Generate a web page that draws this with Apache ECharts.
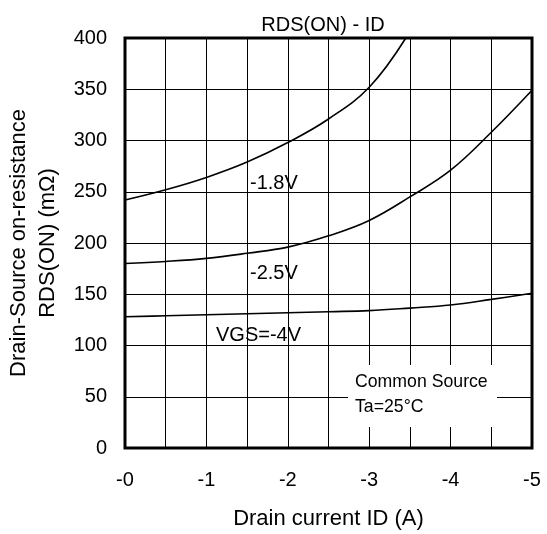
<!DOCTYPE html>
<html>
<head>
<meta charset="utf-8">
<script src="https://cdn.jsdelivr.net/npm/echarts@6/dist/echarts.min.js"></script>
<style>
html,body{margin:0;padding:0;background:#fff;}
#chart{width:547px;height:534px;}
</style>
</head>
<body>
<div id="chart"></div>
<script>
// drain current (A)
var idA = [0, -0.5, -1, -1.5, -2, -2.5, -3, -3.5, -4, -4.5, -5];
var id18 = [0, -0.5, -1, -1.5, -2, -2.5, -3, -3.45];
// RDS(ON) in mOhm
var rds18 = [242, 252, 264, 279, 298, 321, 352, 400];
var rds25 = [180, 182, 185, 190, 196, 207, 222, 245, 271, 308, 349];
var rds40 = [128, 129, 130, 131, 132, 133, 134, 136.5, 139.5, 145, 151];
var curveNames = ['-1.8V', '-2.5V', 'VGS=-4V'];

function pairs(xs, ys) {
	var out = [];
	for (var i = 0; i < xs.length; i++) out.push([xs[i], ys[i]]);
	return out;
}

var font = 'Liberation Sans, Arial, sans-serif';
var chart = echarts.init(document.getElementById('chart'));

var option = {
	animation: false,
	backgroundColor: '#fff',
	title: {
		text: 'RDS(ON) - ID',
		left: 318, top: 10, textAlign: 'center',
		textStyle: {fontFamily: font, fontSize: 20, fontWeight: 'normal', color: '#000'}
	},
	grid: {
		left: 125, right: 15, top: 38, bottom: 86,
		outerBoundsMode: 'none', containLabel: false,
		show: true, borderColor: '#000', borderWidth: 3
	},
	xAxis: {
		type: 'value', min: -5, max: 0, interval: 0.5, inverse: true,
		name: 'Drain current ID (A)', nameLocation: 'middle', nameGap: 60,
		nameTextStyle: {fontFamily: font, fontSize: 22, color: '#000'},
		axisLine: {show: false}, axisTick: {show: false},
		axisLabel: {
			fontFamily: font, fontSize: 20, color: '#000', margin: 22,
			formatter: function (v) {
				if (Math.abs(v % 1) > 1e-9) return '';
				return v === 0 ? '-0' : String(v);
			}
		},
		splitLine: {lineStyle: {color: '#000', width: 1}}
	},
	yAxis: {
		type: 'value', min: 0, max: 400, interval: 50,
		name: 'Drain-Source on-resistance\nRDS(ON) (mΩ)', nameLocation: 'middle', nameGap: 62,
		nameTextStyle: {fontFamily: font, fontSize: 22, color: '#000', lineHeight: 29},
		axisLine: {show: false}, axisTick: {show: false},
		axisLabel: {fontFamily: font, fontSize: 20, color: '#000', margin: 18},
		splitLine: {lineStyle: {color: '#000', width: 1}}
	},
	series: [
		{name: curveNames[0], type: 'line', smooth: 0.4, showSymbol: false,
			lineStyle: {color: '#000', width: 1.6}, data: pairs(id18, rds18)},
		{name: curveNames[1], type: 'line', smooth: 0.4, showSymbol: false,
			lineStyle: {color: '#000', width: 1.6}, data: pairs(idA, rds25)},
		{name: curveNames[2], type: 'line', smooth: 0.4, showSymbol: false,
			lineStyle: {color: '#000', width: 1.6}, data: pairs(idA, rds40)}
	],
	graphic: [
		{type: 'rect', shape: {x: 348, y: 365, width: 149, height: 62}, style: {fill: '#fff'}, z: 10},
		{type: 'text', x: 355, y: 382, z: 11,
			style: {text: 'Common Source', font: '17.7px ' + font, fill: '#000', verticalAlign: 'middle'}},
		{type: 'text', x: 355, y: 407, z: 11,
			style: {text: 'Ta=25°C', font: '17.7px ' + font, fill: '#000', verticalAlign: 'middle'}},
		{type: 'text', x: 250, y: 183, z: 11,
			style: {text: curveNames[0], font: '20px ' + font, fill: '#000', verticalAlign: 'middle'}},
		{type: 'text', x: 250, y: 273, z: 11,
			style: {text: curveNames[1], font: '20px ' + font, fill: '#000', verticalAlign: 'middle'}},
		{type: 'text', x: 216, y: 335, z: 11,
			style: {text: curveNames[2], font: '20px ' + font, fill: '#000', verticalAlign: 'middle'}}
	]
};
chart.setOption(option);
</script>
</body>
</html>
